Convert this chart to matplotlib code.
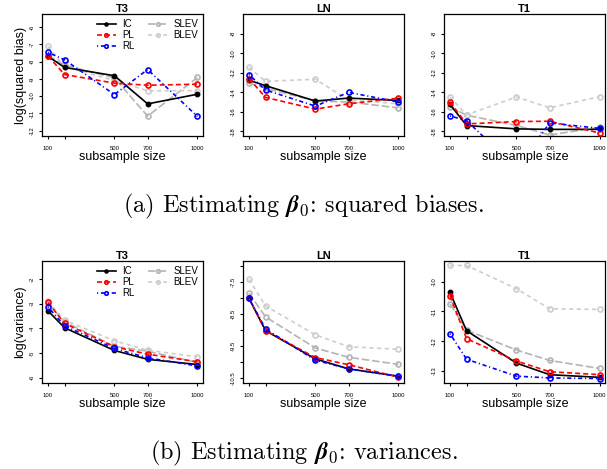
import matplotlib
matplotlib.use('Agg')
import matplotlib.pyplot as plt
import numpy as np

plt.rcParams['font.family'] = ['Liberation Sans', 'DejaVu Sans']
plt.rcParams['mathtext.fontset'] = 'cm'
plt.rcParams['lines.scale_dashes'] = False

SIZES = [100, 200, 500, 700, 1000]
SIZE_LABELS = ['100', '', '500', '700', '1000']
METHODS = ['IC', 'PL', 'RL', 'SLEV', 'BLEV']
PANELS = ['T3', 'LN', 'T1']

# log(squared bias) per panel
BIAS_T3 = {
    'IC':   [-7.70, -8.34, -8.82, -10.45, -9.89],
    'PL':   [-7.68, -8.75, -9.25, -9.37, -9.31],
    'RL':   [-7.47, -7.90, -9.91, -8.46, -11.18],
    'SLEV': [-7.65, -8.20, -8.95, -11.16, -8.92],
    'BLEV': [-7.12, -8.30, -9.10, -9.69, -9.68],
}
BIAS_LN = {
    'IC':   [-12.77, -13.33, -14.90, -14.60, -14.84],
    'PL':   [-12.60, -14.53, -15.73, -15.18, -14.60],
    'RL':   [-12.19, -13.77, -15.42, -14.01, -15.00],
    'SLEV': [-13.05, -13.60, -14.90, -15.00, -15.60],
    'BLEV': [-11.46, -12.88, -12.67, -14.80, -15.18],
}
BIAS_T1 = {
    'IC':   [-15.25, -17.41, -17.75, -17.80, -17.80],
    'PL':   [-15.02, -17.24, -17.00, -16.97, -18.17],
    'RL':   [-16.43, -16.90, -21.80, -17.14, -17.70],
    'SLEV': [-15.50, -16.35, -17.40, -18.38, -17.58],
    'BLEV': [-14.49, -16.31, -14.49, -15.59, -14.46],
}

# log(variance) per panel
VAR_T3 = {
    'IC':   [-3.29, -3.98, -4.90, -5.26, -5.47],
    'PL':   [-2.95, -3.80, -4.75, -5.05, -5.36],
    'RL':   [-3.13, -3.90, -4.82, -5.20, -5.53],
    'SLEV': [-2.99, -3.74, -4.73, -4.93, -5.39],
    'BLEV': [-2.91, -3.67, -4.51, -4.89, -5.16],
}
VAR_LN = {
    'IC':   [-8.01, -9.02, -9.90, -10.21, -10.44],
    'PL':   [-8.01, -9.02, -9.86, -10.08, -10.47],
    'RL':   [-8.01, -8.97, -9.94, -10.21, -10.44],
    'SLEV': [-7.85, -8.59, -9.56, -9.85, -10.07],
    'BLEV': [-7.42, -8.25, -9.15, -9.52, -9.60],
}
VAR_T1 = {
    'IC':   [-10.36, -11.65, -12.74, -13.13, -13.22],
    'PL':   [-10.47, -11.92, -12.67, -13.03, -13.13],
    'RL':   [-11.75, -12.61, -13.18, -13.24, -13.26],
    'SLEV': [-10.74, -11.63, -12.30, -12.65, -12.92],
    'BLEV': [-9.45, -9.45, -10.23, -10.91, -10.93],
}

STYLE = {
    'IC':   dict(color='black', dashes=None, mfc='black', ms=3.0),
    'PL':   dict(color='#ff0000', dashes=(3.6, 2.2), mfc='none', ms=3.6),
    'RL':   dict(color='#0000ff', dashes=(0.8, 2.0, 3.0, 2.0), mfc='none', ms=3.6),
    'SLEV': dict(color='#b4b4b4', dashes=(5.5, 2.0), mfc='none', ms=3.6),
    'BLEV': dict(color='#cdcdcd', dashes=(3.0, 2.5), mfc='none', ms=3.6),
}

fig = plt.figure(figsize=(6.07, 4.69), dpi=100)

lefts = [0.0692, 0.4003, 0.7315]
width = 0.266
rows = [
    dict(bottom=0.710, data=[BIAS_T3, BIAS_LN, BIAS_T1], ylabel='log(squared bias)',
         ylims=[(-12.31, -5.25), (-18.48, -6.0), (-18.48, -6.0)],
         yticks=[np.arange(-12, -5.5, 1), np.arange(-18, -7, 2), np.arange(-18, -7, 2)]),
    dict(bottom=0.1834, data=[VAR_T3, VAR_LN, VAR_T1], ylabel='log(variance)',
         ylims=[(-6.22, -1.27), (-10.65, -6.85), (-13.41, -9.30)],
         yticks=[np.arange(-6, -1.5, 1), np.arange(-10.5, -6.9, 0.5), np.arange(-13, -9.5, 1)]),
]


def fmt_tick(v, skip_int):
    if abs(v - round(v)) < 1e-6:
        return '' if skip_int else f'{int(round(v))}'
    return f'{v:.1f}'


for r, row in enumerate(rows):
    for j, panel in enumerate(PANELS):
        ax = fig.add_axes([lefts[j], row['bottom'], width, 0.260])
        d = row['data'][j]
        for m in METHODS:
            st = STYLE[m]
            ln, = ax.plot(SIZES, d[m], color=st['color'], lw=1.2, marker='o',
                          markersize=st['ms'], markeredgewidth=1.2,
                          markerfacecolor=st['mfc'], markeredgecolor=st['color'],
                          label=m, zorder=3 if m in ('IC', 'PL', 'RL') else 2)
            if st['dashes'] is not None:
                ln.set_dashes(st['dashes'])
        ax.set_xlim(64, 1036)
        ax.set_ylim(*row['ylims'][j])
        ax.set_xticks(SIZES)
        ax.set_xticklabels(SIZE_LABELS)
        yt = row['yticks'][j]
        ax.set_yticks(yt)
        ax.set_yticklabels([fmt_tick(v, r == 1 and j == 1) for v in yt])
        ax.tick_params(axis='both', direction='out', length=2.5, width=0.8,
                       labelsize=4.3)
        ax.tick_params(axis='x', pad=5)
        ax.tick_params(axis='y', pad=3, labelrotation=90)
        for lab in ax.get_yticklabels():
            lab.set_va('center')
        for s in ax.spines.values():
            s.set_linewidth(0.9)
        ax.set_title(panel, fontsize=8, fontweight='bold', pad=-1)
        ax.set_xlabel('subsample size', fontsize=9, labelpad=0)
        if j == 0:
            ax.set_ylabel(row['ylabel'], fontsize=9, labelpad=2)
            ax.legend(loc='upper right', ncol=2, frameon=False, fontsize=7,
                      handlelength=1.9, handletextpad=0.7, columnspacing=1.4,
                      labelspacing=0.12, borderaxespad=0.1, markerscale=0.7)

fig.text(0.5, 1 - 212.5 / 469, r'(a) Estimating $\boldsymbol{\beta}_0$: squared biases.',
         ha='center', va='baseline', fontsize=17.5, family='cmr10')
fig.text(0.5, 1 - 459.5 / 469, r'(b) Estimating $\boldsymbol{\beta}_0$: variances.',
         ha='center', va='baseline', fontsize=17.5, family='cmr10')

fig.savefig('out.png', dpi=100)
